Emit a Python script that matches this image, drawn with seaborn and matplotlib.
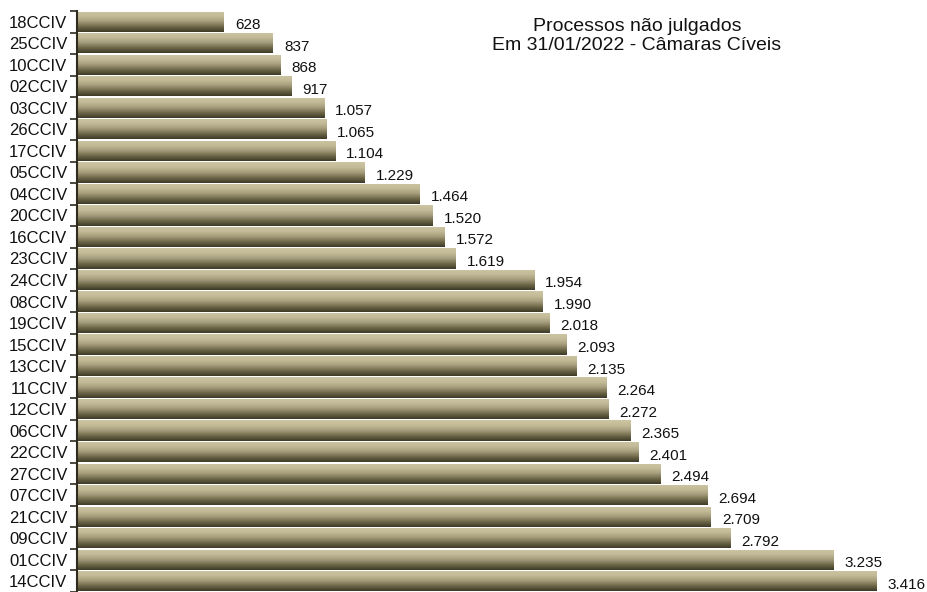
import numpy as np
import pandas as pd
import matplotlib
matplotlib.use("Agg")
import matplotlib.pyplot as plt
from matplotlib.colors import LinearSegmentedColormap
from matplotlib.ticker import FixedLocator
import seaborn as sns

camaras = ["18CCIV", "25CCIV", "10CCIV", "02CCIV", "03CCIV", "26CCIV", "17CCIV",
           "05CCIV", "04CCIV", "20CCIV", "16CCIV", "23CCIV", "24CCIV", "08CCIV",
           "19CCIV", "15CCIV", "13CCIV", "11CCIV", "12CCIV", "06CCIV", "22CCIV",
           "27CCIV", "07CCIV", "21CCIV", "09CCIV", "01CCIV", "14CCIV"]
processos = [628, 837, 868, 917, 1057, 1065, 1104, 1229, 1464, 1520, 1572, 1619,
             1954, 1990, 2018, 2093, 2135, 2264, 2272, 2365, 2401, 2494, 2694,
             2709, 2792, 3235, 3416]
titulo = "Processos não julgados\nEm 31/01/2022 - Câmaras Cíveis"

df = pd.DataFrame({"camara": camaras, "processos": processos})

sns.set_theme(style="white")
plt.rcParams["font.family"] = ["Liberation Sans", "DejaVu Sans"]

fig = plt.figure(figsize=(9.27, 5.92), dpi=100)
ax = fig.add_axes([77 / 927, 0.0, 850 / 927, 581 / 592])

sns.barplot(data=df, y="camara", x="processos", orient="h", ax=ax,
            width=0.94, color="#b0a888", saturation=1, linewidth=0)

cmap = LinearSegmentedColormap.from_list(
    "tan", ["#cdc5a2", "#c3bb97", "#a39b7a", "#6e6849", "#3e3a27"])
grad = np.linspace(0, 1, 64).reshape(-1, 1)
for p in ax.patches:
    x0, y0 = p.get_x(), p.get_y()
    w, h = p.get_width(), p.get_height()
    p.set_facecolor("none")
    im = ax.imshow(grad, cmap=cmap, aspect="auto", interpolation="bilinear",
                   extent=(x0, x0 + w, y0 + h, y0), zorder=2)
    im.set_clip_path(p)

n = len(camaras)
ax.set_xlim(0, 3634)
ax.set_ylim(n - 0.5, -0.5)

for i, v in enumerate(processos):
    lab = f"{v:,}".replace(",", ".")
    ax.annotate(lab, xy=(v, i), xytext=(8, -2.5), textcoords="offset points",
                ha="left", va="center", fontsize=11, color="#111111", zorder=3)

ax.set_xlabel("")
ax.set_ylabel("")
ax.set_xticks([])
ax.tick_params(axis="y", which="major", length=0, labelsize=12,
               labelcolor="#111111", pad=7)
ax.yaxis.set_minor_locator(FixedLocator(np.arange(-0.5, n, 1.0)))
ax.tick_params(axis="y", which="minor", length=5, width=1.2, color="#2e2a1e",
               direction="out", left=True)
for s in ["top", "right", "bottom"]:
    ax.spines[s].set_visible(False)
ax.spines["left"].set_color("#2e2a1e")
ax.spines["left"].set_linewidth(1.5)

fig.text(637 / 927, 1 - 36 / 592, titulo, ha="center", va="center",
         fontsize=14, linespacing=1.2, color="#111111")

fig.savefig("out.png", dpi=100)
